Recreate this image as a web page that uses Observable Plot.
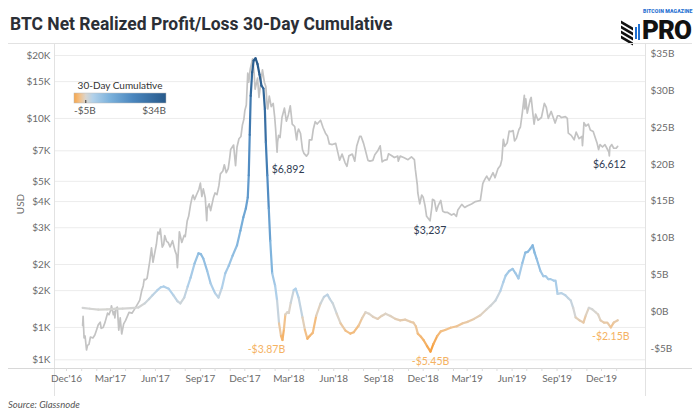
<!DOCTYPE html>
<html><head><meta charset="utf-8">
<script src="https://cdn.jsdelivr.net/npm/d3@7"></script>
<script src="https://cdn.jsdelivr.net/npm/@observablehq/plot@0.6"></script>
<style>
html,body{margin:0;padding:0;background:#fff;}
#wrap{position:relative;width:700px;height:420px;overflow:hidden;font-family:Lato,"Open Sans",sans-serif;}
#title{position:absolute;left:10px;top:12px;font-family:Roboto,sans-serif;font-weight:700;font-size:19px;color:#2b2f36;white-space:nowrap;transform-origin:0 0;transform:scaleX(0.92);}
.ln{position:absolute;background:#e2e2e2;}
#chart svg{position:absolute;left:0;top:0;}
#chart{position:absolute;left:0;top:43px;width:700px;height:357px;}
#legend{position:absolute;left:60px;top:78px;}
#usd{position:absolute;left:20px;top:204px;font-size:10px;color:#6b6b6b;transform:translate(-50%,-50%) rotate(-90deg);}
#source{position:absolute;left:8px;top:399px;font-size:9.5px;font-style:italic;color:#555;}
#logo{position:absolute;left:618px;top:8px;width:80px;height:34px;}
#logo .mag{position:absolute;left:25px;top:0px;font-size:5.2px;font-weight:900;color:#1f6fd1;letter-spacing:0.1px;white-space:nowrap;font-family:Roboto,sans-serif;}
#logo .pro{position:absolute;left:24px;top:9px;font-size:26px;font-weight:900;color:#111;font-family:Roboto,sans-serif;letter-spacing:-1px;line-height:26px;}
#logo .s{position:absolute;width:12px;height:3px;background:#111;transform:skewY(30deg);}
#logo .b{position:absolute;width:2px;background:#1f6fd1;}
</style></head><body>
<div id="wrap">
  <div id="title">BTC Net Realized Profit/Loss 30-Day Cumulative</div>
  <div id="logo">
    <div class="s" style="left:3px;top:16px"></div>
    <div class="s" style="left:3px;top:21px"></div>
    <div class="s" style="left:3px;top:26px"></div>
    <div class="s" style="left:3px;top:31px"></div>
    <div class="b" style="left:17px;top:19px;height:12px"></div>
    <div class="b" style="left:20px;top:16px;height:16px"></div>
    <div class="mag">BITCOIN MAGAZINE</div>
    <div class="pro">PRO</div>
  </div>
  <div class="ln" style="left:8px;top:43px;width:684px;height:1px;"></div>
  <div class="ln" style="left:54px;top:43px;width:1px;height:353px;"></div>
  <div class="ln" style="left:645px;top:43px;width:1px;height:353px;"></div>
  <div class="ln" style="left:8px;top:368px;width:684px;height:1px;background:#d8d8d8"></div>
  <div id="chart"></div>
  <div id="usd">USD</div>
  <div id="legend"></div>
  <div id="source">Source: Glassnode</div>
</div>
<script>
// ---------------- data ----------------
const btcPrice = [
["2017-01-03",1021],["2017-01-04",1130],["2017-01-05",1000],["2017-01-06",890],["2017-01-08",910],["2017-01-11",780],
["2017-01-13",820],["2017-01-16",830],["2017-01-19",900],["2017-01-24",890],["2017-01-28",920],["2017-01-31",965],
["2017-02-04",1030],["2017-02-08",1060],["2017-02-10",990],["2017-02-14",1000],["2017-02-18",1060],["2017-02-23",1170],
["2017-02-26",1150],["2017-03-02",1220],["2017-03-03",1270],["2017-03-07",1150],["2017-03-09",1190],["2017-03-10",1110],
["2017-03-12",1230],["2017-03-15",1250],["2017-03-18",970],["2017-03-21",1110],["2017-03-24",930],["2017-03-28",1040],
["2017-04-01",1080],["2017-04-08",1180],["2017-04-14",1170],["2017-04-20",1230],["2017-04-26",1300],["2017-04-30",1350],
["2017-05-04",1500],["2017-05-07",1580],["2017-05-09",1700],["2017-05-12",1690],["2017-05-15",1720],["2017-05-20",2040],
["2017-05-24",2400],["2017-05-27",2050],["2017-05-31",2300],["2017-06-03",2500],["2017-06-06",2860],["2017-06-09",2800],
["2017-06-11",2960],["2017-06-15",2420],["2017-06-18",2500],["2017-06-20",2750],["2017-06-24",2580],["2017-06-27",2550],
["2017-07-01",2430],["2017-07-06",2600],["2017-07-11",2330],["2017-07-14",2230],["2017-07-16",1930],["2017-07-18",2330],
["2017-07-20",2870],["2017-07-25",2550],["2017-07-30",2760],["2017-08-01",2720],["2017-08-05",3230],["2017-08-08",3400],
["2017-08-12",3880],["2017-08-15",4180],["2017-08-17",4300],["2017-08-20",4090],["2017-08-25",4360],["2017-08-29",4580],
["2017-09-01",4900],["2017-09-04",4230],["2017-09-07",4600],["2017-09-11",4170],["2017-09-14",3240],["2017-09-15",3700],
["2017-09-19",3900],["2017-09-22",3620],["2017-09-28",4200],["2017-10-01",4400],["2017-10-05",4320],["2017-10-09",4780],
["2017-10-12",5430],["2017-10-17",5600],["2017-10-20",6000],["2017-10-24",5500],["2017-10-28",5750],["2017-10-31",6450],
["2017-11-02",7100],["2017-11-08",7460],["2017-11-12",5950],["2017-11-15",7300],["2017-11-19",8000],["2017-11-23",8200],
["2017-11-26",9300],["2017-11-29",9900],["2017-12-01",10900],["2017-12-04",11600],["2017-12-07",16500],["2017-12-09",14900],
["2017-12-12",17200],["2017-12-17",19300],["2017-12-20",16500],["2017-12-22",13800],["2017-12-27",15600],["2017-12-30",12600],
["2018-01-03",15100],["2018-01-06",17100],["2018-01-10",14900],["2018-01-13",14200],["2018-01-16",11200],["2018-01-17",11100],
["2018-01-20",12800],["2018-01-24",11400],["2018-01-28",11800],["2018-01-31",10200],["2018-02-02",8900],["2018-02-05",6892],
["2018-02-06",7700],["2018-02-08",8300],["2018-02-11",8100],["2018-02-15",10100],["2018-02-20",11200],["2018-02-24",9700],
["2018-02-28",10400],["2018-03-04",11500],["2018-03-08",9400],["2018-03-13",9150],["2018-03-17",7900],["2018-03-19",8600],
["2018-03-21",8900],["2018-03-25",8470],["2018-03-29",7100],["2018-04-01",6800],["2018-04-06",6600],["2018-04-10",6800],
["2018-04-12",7900],["2018-04-17",7900],["2018-04-20",8850],["2018-04-24",9650],["2018-04-28",9400],["2018-05-05",9800],
["2018-05-10",9050],["2018-05-15",8500],["2018-05-19",8250],["2018-05-23",7550],["2018-05-29",7500],["2018-06-05",7600],
["2018-06-10",6770],["2018-06-13",6310],["2018-06-18",6750],["2018-06-24",6150],["2018-06-28",5900],["2018-07-02",6620],
["2018-07-09",6750],["2018-07-14",6250],["2018-07-18",7380],["2018-07-24",8200],["2018-07-27",8200],["2018-08-01",7600],
["2018-08-05",7000],["2018-08-10",6300],["2018-08-14",6250],["2018-08-20",6300],["2018-08-24",6700],["2018-08-30",7000],
["2018-09-04",7400],["2018-09-08",6200],["2018-09-12",6300],["2018-09-18",6350],["2018-09-21",6770],["2018-09-27",6650],
["2018-10-03",6500],["2018-10-10",6600],["2018-10-11",6250],["2018-10-15",6600],["2018-10-22",6500],["2018-10-31",6350],
["2018-11-07",6550],["2018-11-13",6350],["2018-11-15",5700],["2018-11-19",4800],["2018-11-20",4400],["2018-11-24",3900],
["2018-11-25",4000],["2018-11-28",4300],["2018-12-01",4200],["2018-12-05",3800],["2018-12-08",3400],["2018-12-15",3237],
["2018-12-19",3800],["2018-12-20",4100],["2018-12-24",4050],["2018-12-28",3600],["2019-01-01",3840],["2019-01-06",4050],
["2019-01-10",3600],["2019-01-15",3550],["2019-01-20",3550],["2019-01-28",3450],["2019-02-02",3500],["2019-02-07",3400],
["2019-02-10",3650],["2019-02-18",3880],["2019-02-24",3750],["2019-03-01",3810],["2019-03-10",3900],["2019-03-18",4000],
["2019-03-28",4050],["2019-04-02",4880],["2019-04-05",5050],["2019-04-10",5300],["2019-04-15",5050],["2019-04-23",5500],
["2019-04-27",5200],["2019-05-03",5750],["2019-05-08",5950],["2019-05-11",6350],["2019-05-14",7950],["2019-05-17",7350],
["2019-05-22",7650],["2019-05-26",8700],["2019-05-30",8650],["2019-06-03",8750],["2019-06-06",7800],["2019-06-10",8050],
["2019-06-15",8850],["2019-06-18",9100],["2019-06-22",10700],["2019-06-26",12900],["2019-06-27",11100],["2019-06-29",12400],
["2019-07-02",10600],["2019-07-08",12300],["2019-07-10",12600],["2019-07-14",10300],["2019-07-16",9400],["2019-07-19",10500],
["2019-07-24",9800],["2019-07-31",10100],["2019-08-06",11800],["2019-08-10",11300],["2019-08-14",10000],["2019-08-20",10800],
["2019-08-28",9500],["2019-09-02",10300],["2019-09-06",10300],["2019-09-10",10100],["2019-09-18",10200],["2019-09-22",10000],
["2019-09-24",8500],["2019-09-30",8300],["2019-10-06",7900],["2019-10-10",8600],["2019-10-16",8000],["2019-10-22",8200],
["2019-10-23",7400],["2019-10-25",8650],["2019-10-26",9550],["2019-10-30",9200],["2019-11-04",9400],["2019-11-08",8800],
["2019-11-14",8650],["2019-11-18",8100],["2019-11-22",7600],["2019-11-25",7100],["2019-11-28",7500],["2019-12-03",7300],
["2019-12-08",7500],["2019-12-12",7200],["2019-12-16",6900],["2019-12-17",6612],["2019-12-18",7280],["2019-12-22",7500],
["2019-12-26",7200],["2019-12-31",7200],["2020-01-03",7350]
];
// 30-day cumulative net realized profit/loss, billions USD
const netPL30d = [
["2017-01-03",0.5],["2017-01-18",0.38],["2017-02-04",0.27],["2017-02-22",0.3],["2017-03-10",0.35],["2017-03-26",0.4],
["2017-04-12",0.45],["2017-04-27",0.55],["2017-05-10",1.1],["2017-05-19",1.7],["2017-05-26",2.2],["2017-06-05",2.9],
["2017-06-12",3.3],["2017-06-18",3.4],["2017-06-28",3.1],["2017-07-08",2.2],["2017-07-16",1.4],["2017-07-22",1.1],
["2017-07-30",1.9],["2017-08-06",3.4],["2017-08-12",4.6],["2017-08-20",6.5],["2017-08-28",7.9],["2017-09-02",7.8],
["2017-09-07",7.2],["2017-09-15",5.5],["2017-09-22",3.8],["2017-10-01",2.5],["2017-10-08",1.9],["2017-10-15",3.2],
["2017-10-22",5.2],["2017-10-29",6.2],["2017-11-06",7.6],["2017-11-15",9.0],["2017-11-22",11.0],["2017-11-28",12.8],
["2017-12-03",14.0],["2017-12-07",15.5],["2017-12-09",18.5],["2017-12-11",24.0],["2017-12-13",29.3],["2017-12-16",32.5],
["2017-12-19",34.1],["2017-12-23",34.4],["2017-12-27",33.6],["2017-12-31",32.2],["2018-01-04",30.7],["2018-01-08",30.3],
["2018-01-11",27.5],["2018-01-13",23.0],["2018-01-16",18.5],["2018-01-19",14.0],["2018-01-22",9.6],["2018-01-26",5.2],
["2018-02-01",3.5],["2018-02-05",1.5],["2018-02-09",-1.6],["2018-02-13",-3.3],["2018-02-16",-3.87],["2018-02-19",-2.4],
["2018-02-22",-0.4],["2018-02-26",-0.1],["2018-03-01",-0.2],["2018-03-05",1.2],["2018-03-11",2.9],["2018-03-15",3.1],
["2018-03-21",1.9],["2018-03-29",-0.8],["2018-04-03",-2.5],["2018-04-08",-3.7],["2018-04-13",-3.3],["2018-04-19",-2.9],
["2018-04-26",-0.6],["2018-05-05",1.1],["2018-05-12",2.0],["2018-05-19",2.3],["2018-05-24",1.7],["2018-05-30",1.1],
["2018-06-07",-0.3],["2018-06-15",-1.6],["2018-06-25",-2.6],["2018-07-05",-3.0],["2018-07-12",-2.8],["2018-07-22",-1.9],
["2018-07-29",-0.9],["2018-08-05",-0.1],["2018-08-12",-0.3],["2018-08-20",-0.7],["2018-08-30",-1.0],["2018-09-07",-0.6],
["2018-09-15",-0.3],["2018-09-25",-0.6],["2018-10-05",-1.0],["2018-10-15",-1.2],["2018-10-25",-1.1],["2018-11-05",-1.4],
["2018-11-11",-1.5],["2018-11-16",-2.0],["2018-11-20",-3.0],["2018-11-26",-3.4],["2018-12-02",-3.9],["2018-12-09",-4.7],
["2018-12-16",-5.45],["2018-12-22",-4.4],["2018-12-30",-3.3],["2019-01-06",-2.7],["2019-01-15",-2.5],["2019-01-26",-2.2],
["2019-02-08",-2.0],["2019-02-20",-1.6],["2019-03-02",-1.4],["2019-03-15",-1.0],["2019-03-28",-0.5],["2019-04-10",0.3],
["2019-04-18",0.8],["2019-04-28",1.5],["2019-05-08",2.8],["2019-05-14",4.0],["2019-05-19",4.9],["2019-05-26",5.5],
["2019-06-02",5.8],["2019-06-08",5.2],["2019-06-14",4.5],["2019-06-22",6.6],["2019-06-28",8.0],["2019-07-03",8.1],
["2019-07-08",8.5],["2019-07-13",9.0],["2019-07-17",8.0],["2019-07-21",7.2],["2019-07-29",5.5],["2019-08-04",4.8],
["2019-08-09",4.8],["2019-08-14",4.4],["2019-08-19",4.4],["2019-08-25",4.2],["2019-08-29",4.2],["2019-09-02",2.4],
["2019-09-10",2.5],["2019-09-18",2.2],["2019-09-24",1.8],["2019-09-29",1.5],["2019-10-04",0.5],["2019-10-09",-0.8],
["2019-10-17",-1.2],["2019-10-25",-1.5],["2019-10-30",-0.5],["2019-11-05",0.5],["2019-11-12",0.3],["2019-11-19",-0.1],
["2019-11-24",-0.4],["2019-11-29",-1.2],["2019-12-06",-1.5],["2019-12-13",-1.5],["2019-12-20",-2.15],["2019-12-26",-1.5],
["2020-01-03",-1.2]
];
const priceCallouts = [["2018-02-05",6892],["2018-12-15",3237],["2019-12-17",6612]];
const plCallouts = [["2018-02-16",-3.87],["2018-12-16",-5.45],["2019-12-20",-2.15]];

const priceTicks = [20000,15000,10000,7000,5000,4000,3000,2000,1500,1000,700];
const priceTickLabels = ["$20K","$15K","$10K","$7K","$5K","$4K","$3K","$2K","$2K","$1K","$1K"];
const plTicks = [-5,0,5,10,15,20,25,30,35];
const quarterTicks = ["2016-12-01","2017-03-01","2017-06-01","2017-09-01","2017-12-01","2018-03-01","2018-06-01",
  "2018-09-01","2018-12-01","2019-03-01","2019-06-01","2019-09-01","2019-12-01"];
const quarterLabels = ["Dec'16","Mar'17","Jun'17","Sep'17","Dec'17","Mar'18","Jun'18","Sep'18","Dec'18","Mar'19","Jun'19","Sep'19","Dec'19"];
const colorStops = [-5, -2.5, 0, 3, 10, 20, 34];
const colorRange = ["#f6a64c","#f2c18a","#d9d5cf","#b2d1ea","#7cb2dc","#4a86be","#285a8b"];
const legendLabels = ["-$5B","$34B"];

// ---------------- chart ----------------
const P = btcPrice.map(([d,v]) => ({date: new Date(d), usd: v}));
const L = netPL30d.map(([d,v]) => ({date: new Date(d), b: v}));
const PC = priceCallouts.map(([d,v]) => ({date: new Date(d), usd: v}));
const LC = plCallouts.map(([d,v]) => ({date: new Date(d), b: v}));
const PT = priceTicks.map((v, i) => ({usd: v, label: priceTickLabels[i]}));
const qTicks = quarterTicks.map(d => new Date(d));
const mTicks = d3.utcMonth.range(new Date("2016-12-01"), new Date("2020-01-02"));
const xDomain = [new Date("2016-11-08T12:00Z"), new Date("2020-02-29T00:00Z")];
const dims = {width: 700, height: 357, marginTop: 2, marginBottom: 32, marginLeft: 55, marginRight: 55};
const font = {fontFamily: "Lato, 'Open Sans', sans-serif", fontSize: "10px", color: "#666", background: "transparent", overflow: "visible"};
const fmtUSD = d3.format(",");
const fmtB = d => (d < 0 ? "-$" : "$") + Math.abs(d) + "B";

const base = Plot.plot({
  ...dims, style: font,
  x: {type: "utc", domain: xDomain, label: null},
  y: {type: "log", domain: [636, 22336], label: null, axis: null},
  marks: [
    Plot.gridY(priceTicks, {stroke: "#ececec", strokeOpacity: 1}),
    Plot.text(PT, {y: "usd", text: "label", frameAnchor: "left", textAnchor: "end", dx: -5, fill: "#6b6b6b", fontSize: 10}),
    Plot.axisX(mTicks, {tickSize: 3, stroke: "#dcdcdc", tickFormat: () => "", label: null}),
    Plot.axisX(qTicks, {tickSize: 0, tickPadding: 6, tickFormat: d => quarterLabels[qTicks.findIndex(t => +t === +d)], label: null, fill: "#6b6b6b"}),
    Plot.line(P, {x: "date", y: "usd", stroke: "#c3c3c3", strokeWidth: 1.7}),
    Plot.text([PC[0]], {x: "date", y: "usd", text: d => "$" + fmtUSD(d.usd), dx: 11, dy: 17, fill: "#2f3b52", fontSize: 10.5}),
    Plot.text([PC[1]], {x: "date", y: "usd", text: d => "$" + fmtUSD(d.usd), dy: 10, fill: "#2f3b52", fontSize: 10.5}),
    Plot.text([PC[2]], {x: "date", y: "usd", text: d => "$" + fmtUSD(d.usd), dy: 9, fill: "#2f3b52", fontSize: 10.5})
  ]
});

const over = Plot.plot({
  ...dims, style: font,
  x: {type: "utc", domain: xDomain, axis: null},
  y: {domain: [-7.74, 36.14], label: null},
  color: {type: "linear", domain: colorStops, range: colorRange},
  marks: [
    Plot.axisY(plTicks, {anchor: "right", tickSize: 0, tickPadding: 5, tickFormat: fmtB, label: null, fill: "#6b6b6b"}),
    Plot.line(L, {x: "date", y: "b", z: null, stroke: "b", strokeWidth: 2.2}),
    Plot.text([LC[0]], {x: "date", y: "b", text: d => fmtB(d.b), dx: -16, dy: 10, fill: "#f5b262", fontSize: 10.5}),
    Plot.text([LC[1]], {x: "date", y: "b", text: d => fmtB(d.b), dy: 10, fill: "#f5b262", fontSize: 10.5}),
    Plot.text([LC[2]], {x: "date", y: "b", text: d => fmtB(d.b), dy: 9, fill: "#f5b262", fontSize: 10.5})
  ]
});
const chart = document.getElementById("chart");
chart.appendChild(base);
chart.appendChild(over);

// ---------------- legend ----------------
(function(){
  const lw = 92, x0 = 14;
  const svg = d3.select("#legend").append("svg").attr("width", 120).attr("height", 42)
    .style("font-family", "Lato, 'Open Sans', sans-serif");
  const grad = svg.append("defs").append("linearGradient").attr("id", "lg");
  const lo = colorStops[0], hi = colorStops[colorStops.length - 1];
  colorStops.forEach((s, i) => grad.append("stop").attr("offset", (s - lo) / (hi - lo)).attr("stop-color", colorRange[i]));
  svg.append("text").attr("x", x0 + lw / 2).attr("y", 11).attr("text-anchor", "middle").attr("font-size", 10).attr("fill", "#333").text("30-Day Cumulative");
  svg.append("rect").attr("x", x0).attr("y", 15).attr("width", lw).attr("height", 10).attr("fill", "url(#lg)").attr("stroke", "#bbb").attr("stroke-width", 0.5);
  const zx = x0 + lw * (0 - lo) / (hi - lo);
  svg.append("line").attr("x1", zx).attr("x2", zx).attr("y1", 22).attr("y2", 25).attr("stroke", "#333");
  svg.append("text").attr("x", x0).attr("y", 36).attr("font-size", 10).attr("fill", "#555").text(legendLabels[0]);
  svg.append("text").attr("x", x0 + lw).attr("y", 36).attr("text-anchor", "end").attr("font-size", 10).attr("fill", "#555").text(legendLabels[1]);
})();
</script>
</body></html>
